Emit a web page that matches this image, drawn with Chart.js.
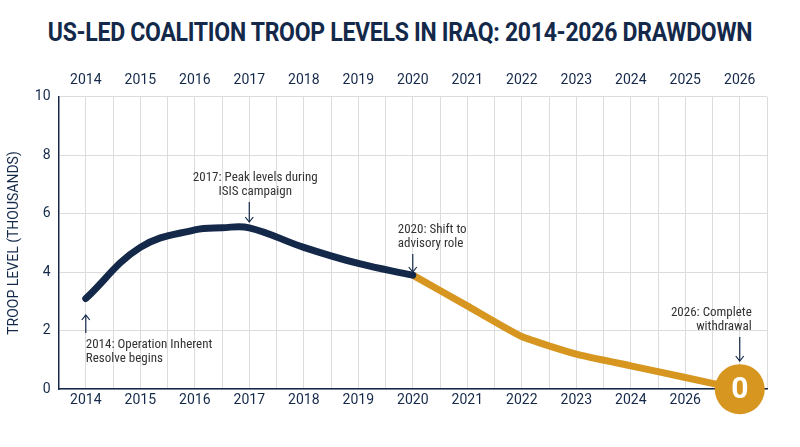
<!DOCTYPE html>
<html><head><meta charset="utf-8">
<script src="https://cdn.jsdelivr.net/npm/chart.js@4"></script>
<style>html,body{margin:0;background:#fff}#w{width:800px;height:447px;position:relative}
h1{margin:0;position:absolute;top:18px;left:0;width:800px;text-align:center;font:700 25px Roboto,sans-serif;color:#14294A;letter-spacing:-0.3px;transform:scaleX(0.92)}
#c{position:absolute;left:0;top:56px}</style></head>
<body><div id="w"><h1>US-LED COALITION TROOP LEVELS IN IRAQ: 2014-2026 DRAWDOWN</h1><canvas id="c" width="800" height="391"></canvas></div>
<script>
const years=[2014,2015,2016,2016.5,2017,2018,2019,2020];
const navyVals=[3.1,4.85,5.45,5.52,5.52,4.85,4.3,3.9];
const futureYears=[2020,2021,2022,2023,2024,2025,2026];
const futureVals=[3.9,2.85,1.8,1.2,0.8,0.4,0];
const topLabels=["2014","2015","2016","2017","2018","2019","2020","2021","2022","2023","2024","2025","2026"];
const bottomLabels=["2014","2015","2016","2017","2018","2019","2020","2021","2022","2023","2024","2026",""];
const notes=[
 {x:2014,lines:["2014: Operation Inherent","Resolve begins"],align:"left",dx:0,ty:289,a1:277,a2:259},
 {x:2017,lines:["2017: Peak levels during","ISIS campaign"],align:"center",dx:6,ty:122,a1:146,a2:166},
 {x:2020,lines:["2020: Shift to","advisory role"],align:"left",dx:-15,ty:174,a1:198,a2:216},
 {x:2026,lines:["2026: Complete","withdrawal"],align:"right",dx:12,ty:257,a1:281,a2:305}
];
const navy="#14294A",gold="#D6961F";
const notePlugin={id:"notes",afterDatasetsDraw(ch){
 const c=ch.ctx,xs=ch.scales.x;c.save();
 const px=xs.getPixelForValue(2026),py=ch.scales.y.getPixelForValue(0);
 c.fillStyle=gold;c.beginPath();c.arc(px,py,25,0,Math.PI*2);c.fill();
 c.fillStyle="#fff";c.font="700 30px Roboto";c.textAlign="center";c.textBaseline="middle";c.fillText("0",px,py+1);
 c.font="13px 'Roboto Condensed','Liberation Sans Narrow',Roboto";c.fillStyle="#333";c.textBaseline="middle";
 notes.forEach(n=>{const x=xs.getPixelForValue(n.x);c.textAlign=n.align;
  n.lines.forEach((l,i)=>c.fillText(l,x+n.dx,n.ty+i*14));
  c.strokeStyle=navy;c.lineWidth=1.2;c.beginPath();c.moveTo(x,n.a1);c.lineTo(x,n.a2);c.stroke();
  const d=n.a2>n.a1?-5:5;c.beginPath();c.moveTo(x-4,n.a2+d);c.lineTo(x,n.a2);c.lineTo(x+4,n.a2+d);c.stroke();});
 c.restore();}};
const tick={color:navy,font:{size:14,family:"Roboto"}};
new Chart(document.getElementById("c"),{type:"line",
 data:{datasets:[
  {data:years.map((x,i)=>({x,y:navyVals[i]})),borderColor:navy,borderWidth:7,tension:0.4,pointRadius:0,borderCapStyle:"round"},
  {data:futureYears.map((x,i)=>({x,y:futureVals[i]})),borderColor:gold,borderWidth:7,tension:0.15,pointRadius:0}
 ]},
 options:{responsive:false,animation:false,layout:{padding:{left:2,right:33,top:8,bottom:35}},
  plugins:{legend:{display:false},tooltip:{enabled:false}},
  scales:{
   x:{type:"linear",position:"bottom",min:2013.5,max:2026.5,afterBuildTicks(a){a.ticks=[];for(let v=2013.5;v<=2026.5;v+=0.5)a.ticks.push({value:v});},
    ticks:{...tick,autoSkip:false,maxRotation:0,callback:v=>Number.isInteger(v)?bottomLabels[v-2014]:""},
    grid:{color:"#dcdcdc",drawTicks:false},border:{color:navy,width:1.5}},
   x2:{type:"linear",position:"top",min:2013.5,max:2026.5,afterBuildTicks(a){a.ticks=topLabels.map((t,i)=>({value:2014+i}));},
    ticks:{...tick,autoSkip:false,maxRotation:0,padding:8,callback:v=>topLabels[v-2014]},grid:{display:false,drawTicks:false},border:{display:false}},
   y:{min:0,max:10,ticks:{...tick,stepSize:2,padding:8},grid:{color:"#dcdcdc",drawTicks:false},border:{color:navy,width:1.5},
    title:{display:true,text:"TROOP LEVEL (THOUSANDS)",color:navy,font:{size:14,family:"Roboto"}}}
  }},plugins:[notePlugin]});
</script></body></html>
